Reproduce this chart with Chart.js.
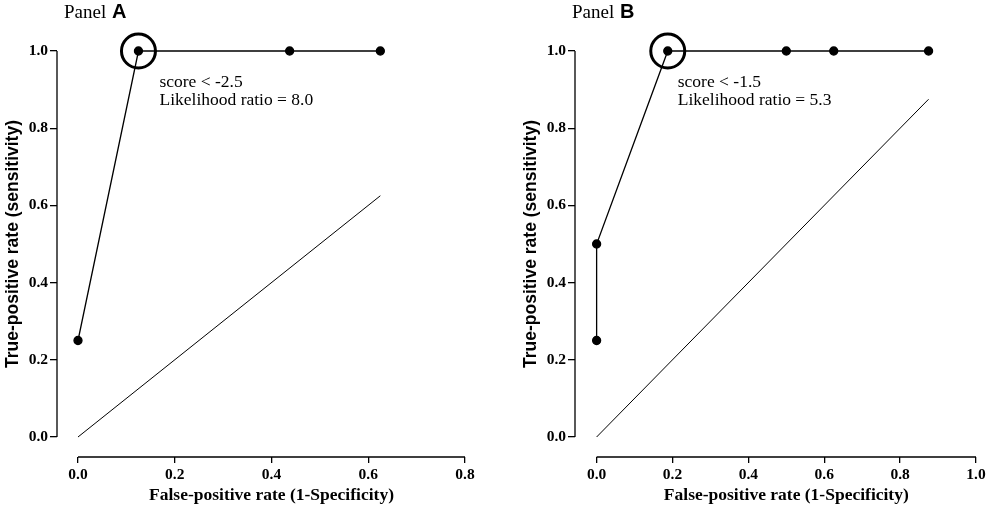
<!DOCTYPE html>
<html>
<head>
<meta charset="utf-8">
<script src="https://cdn.jsdelivr.net/npm/chart.js@4"></script>
<style>
  html, body { margin: 0; padding: 0; background: #fff; }
  .panel { position: absolute; top: 0; width: 498px; height: 510px; }
</style>
</head>
<body>
<div class="panel" style="left:0"><canvas id="panelA"></canvas></div>
<div class="panel" style="left:498px"><canvas id="panelB"></canvas></div>
<script>
// Panel A: ROC points
const fprA = [0, 0.125, 0.4375, 0.625];
const tprA = [0.25, 1.0, 1.0, 1.0];
const cutA = 1;
const noteA = ["score < -2.5", "Likelihood ratio = 8.0"];

// Panel B: ROC points
const fprB = [0, 0, 0.1875, 0.5, 0.625, 0.875];
const tprB = [0.25, 0.5, 1.0, 1.0, 1.0, 1.0];
const cutB = 2;
const noteB = ["score < -1.5", "Likelihood ratio = 5.3"];

// tick labels
const xTicksA = [0, 0.2, 0.4, 0.6, 0.8];
const xTicksB = [0, 0.2, 0.4, 0.6, 0.8, 1.0];
const yTicks = [0, 0.2, 0.4, 0.6, 0.8, 1.0];

const xTitle = "False-positive rate (1-Specificity)";
const yTitle = "True-positive rate (sensitivity)";

const tickFont = { family: "'Liberation Serif', 'Times New Roman', serif", size: 15.5, weight: "bold" };

// draws offset axis lines, panel label, axis titles and the cut-off note
const extras = {
  id: "extras",
  afterDraw(chart) {
    const o = chart.options.plugins.extras;
    const ctx = chart.ctx;
    const xs = chart.scales.x, ys = chart.scales.y;
    const area = chart.chartArea;
    ctx.save();
    ctx.strokeStyle = "#000";
    ctx.lineWidth = 1.3;
    ctx.beginPath();
    ctx.moveTo(xs.getPixelForValue(0), area.bottom);
    ctx.lineTo(xs.getPixelForValue(o.xMax), area.bottom);
    ctx.moveTo(area.left, ys.getPixelForValue(0));
    ctx.lineTo(area.left, ys.getPixelForValue(1));
    ctx.stroke();

    ctx.fillStyle = "#000";
    ctx.textBaseline = "alphabetic";
    ctx.textAlign = "left";
    ctx.font = "19px 'Liberation Serif', serif";
    ctx.fillText("Panel ", o.labelX, 18);
    const w = ctx.measureText("Panel ").width;
    ctx.font = "bold 20px 'Liberation Sans', Arial, sans-serif";
    ctx.fillText(o.letter, o.labelX + w + 1, 18);

    // x title
    ctx.textAlign = "center";
    ctx.textBaseline = "middle";
    ctx.font = "bold 17.5px 'Liberation Serif', serif";
    const cx = (xs.getPixelForValue(0) + xs.getPixelForValue(o.xMax)) / 2;
    ctx.fillText(xTitle, cx, area.bottom + 38);

    // y title
    ctx.save();
    const cy = (ys.getPixelForValue(0) + ys.getPixelForValue(1)) / 2;
    ctx.translate(area.left - 44, cy);
    ctx.rotate(-Math.PI / 2);
    ctx.font = "bold 17.5px 'Liberation Sans', Arial, sans-serif";
    ctx.fillText(yTitle, 0, 0);
    ctx.restore();

    // note next to the circled cut-off
    const px = xs.getPixelForValue(o.cutX);
    const py = ys.getPixelForValue(o.cutY);
    ctx.textAlign = "left";
    ctx.font = "17.5px 'Liberation Serif', serif";
    ctx.fillText(o.note[0], px + o.noteDx, py + 31);
    ctx.fillText(o.note[1], px + o.noteDx, py + 49);
    ctx.restore();
  }
};

function makePanel(canvasId, fpr, tpr, cut, note, xTicks, p) {
  const xMax = xTicks[xTicks.length - 1];
  const diagEnd = fpr[fpr.length - 1];
  let ctx = document.getElementById(canvasId).getContext("2d");
  new Chart(ctx, {
    type: "scatter",
    data: {
      datasets: [
        {
          data: fpr.map((x, i) => ({ x: x, y: tpr[i] })),
          showLine: true,
          borderColor: "#000",
          backgroundColor: "#000",
          borderWidth: 1.3,
          pointRadius: 4,
          pointHoverRadius: 4,
          clip: false
        },
        {
          data: [{ x: 0, y: 0 }, { x: diagEnd, y: diagEnd }],
          showLine: true,
          borderColor: "#000",
          borderWidth: 1,
          pointRadius: 0,
          clip: false
        },
        {
          data: [{ x: fpr[cut], y: tpr[cut] }],
          pointRadius: 17,
          pointBorderWidth: 3,
          pointBorderColor: "#000",
          pointBackgroundColor: "rgba(0,0,0,0)",
          clip: false
        }
      ]
    },
    options: {
      responsive: true,
      maintainAspectRatio: false,
      animation: false,
      events: [],
      layout: { padding: { top: 51, right: p.padRight, bottom: 0, left: 0 } },
      plugins: {
        legend: { display: false },
        tooltip: { enabled: false },
        extras: {
          xMax: xMax, letter: p.letter, labelX: p.labelX,
          cutX: fpr[cut], cutY: tpr[cut], note: note, noteDx: p.noteDx
        }
      },
      scales: {
        x: {
          type: "linear",
          min: p.xMin,
          max: xMax,
          afterBuildTicks: axis => { axis.ticks = xTicks.map(v => ({ value: v })); },
          afterFit: axis => { axis.height = 53; },
          border: { display: false },
          grid: { drawOnChartArea: false, drawTicks: true, tickLength: 6, color: "#000", lineWidth: 1.3 },
          ticks: { color: "#000", font: tickFont, padding: 3, maxRotation: 0, callback: v => v.toFixed(1) }
        },
        y: {
          type: "linear",
          min: -0.0518,
          max: 1.0,
          afterBuildTicks: axis => { axis.ticks = yTicks.map(v => ({ value: v })); },
          afterFit: axis => { axis.width = p.yWidth; },
          border: { display: false },
          grid: { drawOnChartArea: false, drawTicks: true, tickLength: 7, color: "#000", lineWidth: 1.3 },
          ticks: { color: "#000", font: tickFont, padding: 2, callback: v => v.toFixed(1) }
        }
      }
    },
    plugins: [extras]
  });
}

makePanel("panelA", fprA, tprA, cutA, noteA, xTicksA,
  { letter: "A", labelX: 64, xMin: -0.0434, yWidth: 57, padRight: 33, noteDx: 21 });
makePanel("panelB", fprB, tprB, cutB, noteB, xTicksB,
  { letter: "B", labelX: 74, xMin: -0.057, yWidth: 77, padRight: 13, noteDx: 10 });
</script>
</body>
</html>
